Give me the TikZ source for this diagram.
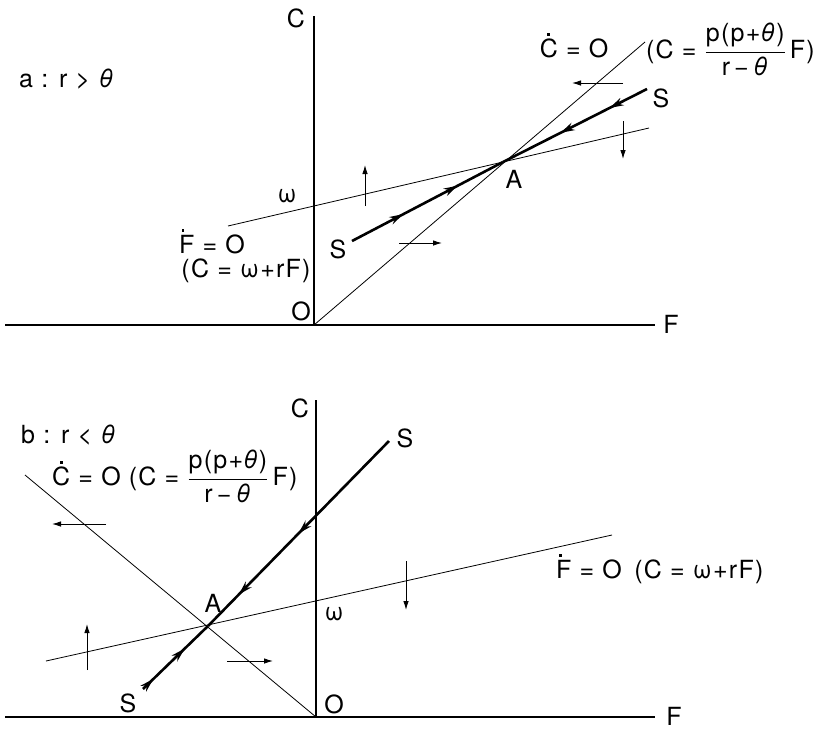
\documentclass[tikz,border=0pt]{standalone}
\usepackage{fontspec}
\setmainfont{TeX Gyre Heros}[LetterSpace=5]
\usetikzlibrary{arrows.meta,decorations.markings}
\tikzset{
  axis/.style={line width=1.8pt},
  iso/.style={line width=0.8pt},
  saddle/.style 2 args={line width=2.6pt, postaction={decorate},
    decoration={markings,
      mark=at position #1 with {\arrow{Stealth[length=14pt,width=8pt]}},
      mark=at position #2 with {\arrow{Stealth[length=14pt,width=8pt]}}}},
  dirarrow/.style={line width=0.9pt, -{Latex[length=9pt,width=5.5pt]}},
  lbl/.style={font=\fontsize{25}{29}\selectfont, inner sep=0pt, anchor=base},
}
\newcommand{\frc}{\ensuremath{\displaystyle\frac{\mbox{p(p+\textit{θ})}}{\mbox{r\,−\,\textit{θ}}}}}
\newcommand{\Cd}{\rlap{\kern0.30em\raisebox{0.86em}{\rule{2.8pt}{2.8pt}}}C}
\newcommand{\Fd}{\rlap{\kern0.10em\raisebox{0.86em}{\rule{2.8pt}{2.8pt}}}F}
\begin{document}
\begin{tikzpicture}[x=1pt,y=-1pt]
\useasboundingbox (0,0) rectangle (817,729);
% ---------------- panel a ----------------
\coordinate (O1) at (314,325);
\coordinate (Ctop1) at (314,16);
\coordinate (Fl1) at (5,325);
\coordinate (Fr1) at (655,325);
\coordinate (A1) at (503,162);
\coordinate (fd1s) at (228,226);
\coordinate (fd1e) at (649,128);
\coordinate (cd1e) at (645,42);
\coordinate (s1a) at (352,241);
\coordinate (s1b) at (647,89);
\draw[axis] (Ctop1) -- (O1);
\draw[axis] (Fl1) -- (Fr1);
\draw[iso] (fd1s) -- (fd1e);
\draw[iso] (O1) -- (cd1e);
\draw[saddle={0.34}{0.70}] (s1a) -- (A1);
\draw[saddle={0.26}{0.60}] (s1b) -- (A1);
% direction arrows
\coordinate (u1s) at (365,206); \coordinate (u1e) at (365,165);
\coordinate (d1s) at (623,121); \coordinate (d1e) at (623,159);
\coordinate (l1s) at (623,83);  \coordinate (l1e) at (572,83);
\coordinate (r1s) at (399,243); \coordinate (r1e) at (442,243);
\draw[dirarrow] (u1s) -- (u1e);
\draw[dirarrow] (d1s) -- (d1e);
\draw[dirarrow] (l1s) -- (l1e);
\draw[dirarrow] (r1s) -- (r1e);
% labels
\node[lbl] (Cl1) at (296,27) {C};
\node[lbl] (Ol1) at (301,320) {O};
\node[lbl] (Fl1lab) at (671,333) {F};
\node[lbl,anchor=base west] (ta) at (19,87) {a : r > \textit{θ}};
\node[lbl] (wl1) at (287,202) {ω};
\node[lbl] (fdl1) at (212,253) {\Fd\ = O};
\node[lbl] (fdl1b) at (246,277) {(C = ω+rF)};
\node[lbl] (Sl1a) at (338,258) {S};
\node[lbl] (Sl1b) at (661,107) {S};
\node[lbl] (Al1) at (514,188) {A};
\node[lbl] (cdl1) at (574,57) {\Cd\ = O};
\node[lbl,anchor=base east] (cdl1b) at (815,58) {(C = \frc\,F)};
% ---------------- panel b ----------------
\coordinate (O2) at (316,717);
\coordinate (Ctop2) at (316,400);
\coordinate (Fl2) at (5,717);
\coordinate (Fr2) at (655,717);
\coordinate (A2) at (208,626);
\coordinate (cd2s) at (25,475);
\coordinate (fd2s) at (46,661);
\coordinate (fd2e) at (612,535);
\coordinate (s2a) at (143,689);
\coordinate (s2b) at (389,441);
\draw[axis] (Ctop2) -- (O2);
\draw[axis] (Fl2) -- (Fr2);
\draw[iso] (cd2s) -- (O2);
\draw[iso] (fd2s) -- (fd2e);
\draw[saddle={0.16}{0.64}] (s2a) -- (A2);
\draw[saddle={0.50}{0.83}] (s2b) -- (A2);
\coordinate (l2s) at (106,524); \coordinate (l2e) at (52,524);
\coordinate (u2s) at (87,670);  \coordinate (u2e) at (87,624);
\coordinate (r2s) at (227,661); \coordinate (r2e) at (273,661);
\coordinate (d2s) at (406,561); \coordinate (d2e) at (406,610);
\draw[dirarrow] (l2s) -- (l2e);
\draw[dirarrow] (u2s) -- (u2e);
\draw[dirarrow] (r2s) -- (r2e);
\draw[dirarrow] (d2s) -- (d2e);
\node[lbl] (Cl2) at (300,417) {C};
\node[lbl] (Ol2) at (334,713) {O};
\node[lbl] (Fl2lab) at (674,725) {F};
\node[lbl,anchor=base west] (tb) at (21,443) {b : r < \textit{θ}};
\node[lbl,anchor=base west] (cdl2) at (52,485) {\Cd\ = O (C = \frc\,F)};
\node[lbl] (Al2) at (213,612) {A};
\node[lbl] (wl2) at (334,620) {ω};
\node[lbl] (Sl2a) at (128,712) {S};
\node[lbl] (Sl2b) at (405,447) {S};
\node[lbl,anchor=base west] (fdl2) at (556,578) {\Fd\ = O\, (C = ω+rF)};
\end{tikzpicture}
\end{document}
